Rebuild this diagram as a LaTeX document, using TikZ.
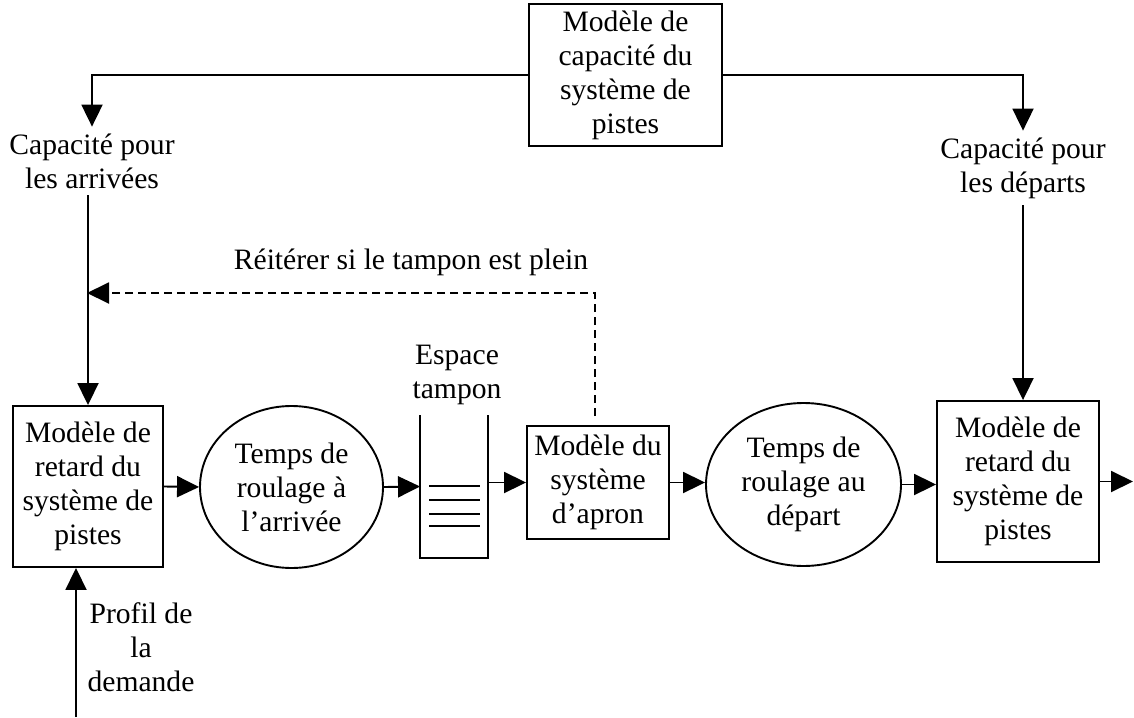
\documentclass[tikz,border=0pt]{standalone}
\usepackage{fontspec}
\setmainfont{Liberation Serif}
\usepackage{tikz}
\usetikzlibrary{arrows.meta, positioning, shapes.geometric}

\begin{document}
\begin{tikzpicture}[
  x=0.5pt, y=-0.5pt,
  font=\fontsize{14.8}{17}\selectfont,
  line width=0.95pt,
  box/.style={draw, rectangle, align=center, inner sep=0pt},
  oval/.style={draw, ellipse, align=center, inner sep=0pt},
  lbl/.style={align=center, inner sep=1pt},
  ar/.style={-{Triangle[length=11pt, width=10.5pt]}},
  dsh/.style={dash pattern=on 4pt off 2.5pt}
]
\useasboundingbox (0,0) rectangle (1134,717);

% --- capacity model on top ---
\node[box, minimum width=96.5pt, minimum height=71pt] (cap) at (625.5,75)
  {Modèle de\\ capacité du\\ système de\\ pistes};
\node[lbl] (capA) at (92,161) {Capacité pour\\ les arrivées};
\node[lbl] (capD) at (1023,168) {Capacité pour\\ les départs};

\draw[ar] (cap.west) -| ([yshift=2pt]capA.north);
\draw[ar] (cap.east) -| ([yshift=2pt]capD.north);

% --- main chain ---
\node[box, minimum width=75pt, minimum height=80.5pt] (rA) at (88,486.5)
  {Modèle de\\ retard du\\ système de\\ pistes};
\node[oval, minimum width=91.5pt, minimum height=81pt] (t1) at (291.5,487)
  {Temps de\\ roulage à\\ l’arrivée};
\node[minimum width=33pt, minimum height=70.5pt, inner sep=0pt] (buf) at (454,486.5) {};
\node[lbl] (esp) at (457,375) {Espace\\ tampon};
\node[box, minimum width=71pt, minimum height=56.5pt] (apron) at (598,482.5)
  {Modèle du\\ système\\ d’apron};
\node[oval, minimum width=97.5pt, minimum height=81.5pt] (t2) at (803.5,484.5)
  {Temps de\\ roulage au\\ départ};
\node[box, minimum width=81pt, minimum height=80.5pt] (rD) at (1018,481.5)
  {Modèle de\\ retard du\\ système de\\ pistes};
\coordinate (out) at (1133,481.5);

% buffer
\draw (buf.north west) -- (buf.south west) -- (buf.south east) -- (buf.north east);
\foreach \yy in {486,500,514,526}
  \draw (429,\yy) -- (480,\yy);

\draw[ar] (rA.east) -- (t1.west);
\draw[ar] (t1.east) -- (buf.west);
\draw[ar] (buf.east |- apron.west) -- (apron.west);
\draw[ar] (apron.east) -- (apron.east -| t2.west);
\draw[ar] (t2.east) -- (t2.east -| rD.west);
\draw[ar] (rD.east) -- (rD.east -| out);

% --- capacities into the delay models ---
\draw[ar] ([yshift=-2pt]capA.south -| rA.north) -- (rA.north);
\draw[ar] ([yshift=-2pt]capD.south) -- (capD.south |- rD.north);

% --- iterate loop ---
\coordinate (back) at (87,293);
\node[lbl] (iter) at (411,262) {Réitérer si le tampon est plein};
\draw[ar, dsh] ([xshift=-1.5pt, yshift=4.5pt]apron.north) |- (back);

% --- demand profile ---
\coordinate (dem) at (76,717);
\node[lbl] (prof) at (141,647) {Profil de\\ la\\ demande};
\draw[ar] (dem) -- (dem |- rA.south);
\end{tikzpicture}
\end{document}
